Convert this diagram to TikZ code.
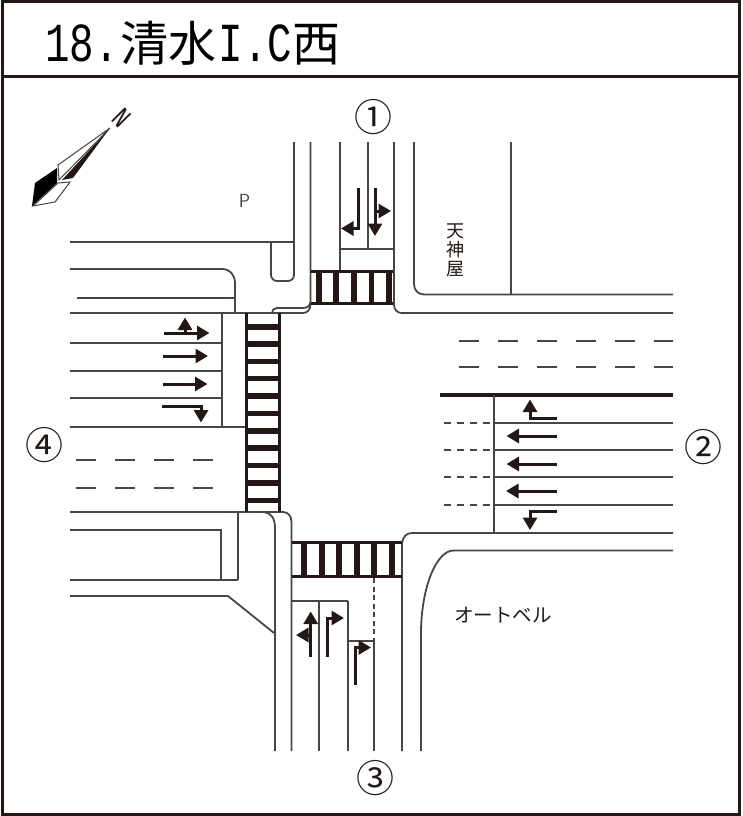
\documentclass[tikz,border=0pt]{standalone}
\usepackage{fontspec}
\usetikzlibrary{arrows.meta}
\newfontfamily\jpfont{Noto Sans CJK JP}
\newfontfamily\monofont[FakeStretch=0.742]{Liberation Mono}
\definecolor{ink}{HTML}{231815}
\definecolor{road}{HTML}{4A4442}
\tikzset{
  curb/.style={draw=road,line width=1.8pt},
  frame/.style={draw=ink,line width=3pt},
  barline/.style={draw=ink,line width=3pt},
  lane/.style={draw=ink,line width=3pt,-{Triangle[length=12.5pt,width=14pt]}},
  stripe/.style={fill=ink,draw=none},
  center/.style={draw=road,line width=1.7pt,dash pattern=on 20pt off 19pt},
  short/.style={draw=road,line width=1.9pt,dash pattern=on 7pt off 6.3pt},
  place/.style={font=\jpfont\fontsize{#1}{#1}\selectfont,text=ink,inner sep=0pt},
  number/.style={font=\jpfont\fontsize{38}{38}\selectfont,text=ink,inner sep=0pt}
}
\begin{document}
\begin{tikzpicture}[x=1pt,y=-1pt]
  \useasboundingbox (0,0) rectangle (742,816);
  % frame
  \draw[frame] (2,1.5) rectangle (739.2,814.5);
  \draw[frame] (2,76) -- (739.2,76);
  \node[anchor=base west,inner sep=0pt,text=black] (title) at (45,61)
    {\fontsize{55}{55}\monofont 18.\hspace{2pt}\fontsize{48}{48}\jpfont 清水\hspace{2pt}\fontsize{55}{55}\monofont I.C\fontsize{48}{48}\jpfont 西};
  % road 1
  \draw[curb] (294,142) -- (294,275) arc[start angle=0,end angle=90,radius=6] -- (277,281)
    arc[start angle=90,end angle=180,radius=6] -- (271,242);
  \draw[curb] (310.5,142) -- (310.5,302) .. controls (310,306) and (307,308) .. (303,308)
    -- (277,308) .. controls (274,308) and (272,310) .. (272,313);
  \draw[curb] (280,313) -- (303,313) .. controls (307,313) and (310.5,310) .. (310.5,304);
  \draw[curb] (340,142) -- (340,271);
  \draw[curb] (368,142) -- (368,249);
  \draw[curb] (340,249) -- (394,249);
  \draw[curb] (394,142) -- (394,305) .. controls (394.5,310) and (397,313) .. (402,313) -- (673,313);
  \draw[curb] (414,142) -- (414,284) .. controls (414,290) and (418,294.5) .. (424,294.5) -- (673,294.5);
  \draw[curb] (511,142) -- (511,294.5);
  % crosswalk 1
  \draw[barline] (310.5,271) -- (393,271);
  \draw[barline] (310.5,303.5) -- (393,303.5);
  \foreach \x in {319,336,354,371.5,389}
    \fill[stripe] (\x-2.7,271) rectangle (\x+2.7,303.5);
  % road 4
  \draw[curb] (70,242) -- (294,242);
  \draw[curb] (70,269) -- (222,269) .. controls (230,269) and (235,275) .. (235,283) -- (235,313);
  \draw[curb] (77,298) -- (235,298);
  \draw[curb] (70,313) -- (280,313);
  \draw[curb] (70,343) -- (222,343);
  \draw[curb] (70,371) -- (222,371);
  \draw[curb] (70,398) -- (222,398);
  \draw[curb] (70,427) -- (246,427);
  \draw[curb] (222,313) -- (222,427);
  \draw[center] (76,460) -- (213,460);
  \draw[center] (76,488) -- (213,488);
  \draw[curb] (70,512) -- (283,512) .. controls (288,512) and (291.5,516) .. (291.5,522) -- (291.5,751);
  \draw[curb] (264,512) .. controls (271,513) and (275,518) .. (275,528) -- (275,751);
  \draw[curb] (238,512) -- (238,580);
  \draw[curb] (70,530) -- (221,530) -- (221,580);
  \draw[curb] (70,580) -- (238,580);
  \draw[curb] (70,596) -- (228,596) -- (274,633);
  % crosswalk 4
  \draw[barline] (246.5,313) -- (246.5,512);
  \draw[barline] (279.5,313) -- (279.5,512);
  \foreach \y in {327,344,361.2,378.6,396,413.6,431,448,465.6,483,500.2}
    \fill[stripe] (246.5,\y-2.6) rectangle (279.5,\y+2.6);
  % road 3
  \draw[curb] (319,601) -- (319,751);
  \draw[curb] (348,601) -- (348,751);
  \draw[curb] (292,601) -- (348,601);
  \draw[curb] (348,641) -- (374,641);
  \draw[curb] (374,641) -- (374,751);
  \draw[curb,dash pattern=on 5pt off 3.5pt] (374,578) -- (374,641);
  \draw[curb] (402,751) -- (402,543) .. controls (403,537) and (406,533) .. (412,533) -- (673,533);
  \draw[curb] (421,751) -- (421,630) .. controls (422,585) and (437,550) .. (454,550.5) -- (673,550.5);
  % crosswalk 3
  \draw[barline] (292,542.5) -- (402,542.5);
  \draw[barline] (292,576) -- (402,576);
  \foreach \x in {304,321.7,339,356.7,373.7,391.7}
    \fill[stripe] (\x-3,542.5) rectangle (\x+3,576);
  % road 2
  \draw[draw=ink,line width=4pt] (440,394.5) -- (673,394.5);
  \draw[curb] (494,394.5) -- (494,533);
  \foreach \y in {423,450,477,505}{
    \draw[curb] (494,\y) -- (673,\y);
    \draw[short] (443.5,\y) -- (490,\y);
  }
  \draw[center] (459,341) -- (673,341);
  \draw[center] (459,367) -- (673,367);
  % lane arrows
  \draw[lane] (358,188) -- (358,228.5) -- (341,228.5);
  \draw[lane] (375,188) -- (375,236);
  \draw[lane] (375,211) -- (391,211);
  \draw[lane] (185,333) -- (185,317.5);
  \draw[lane] (164,333) -- (209.5,333);
  \draw[lane] (163,356) -- (208,356);
  \draw[lane] (163,384) -- (207.5,384);
  \draw[lane] (162,406) -- (201,406) -- (201,422.5);
  \draw[lane] (556.5,418) -- (530,418) -- (530,399.5);
  \draw[lane] (557,436) -- (506.5,436);
  \draw[lane] (557,464) -- (506.5,464);
  \draw[lane] (557,491) -- (506,491);
  \draw[lane] (556.5,511) -- (530,511) -- (530,530);
  \draw[lane] (310.7,657) -- (310.7,611.5);
  \draw[lane] (310.7,635) -- (296,635);
  \draw[lane] (327.7,657) -- (327.7,618) -- (344,618);
  \draw[lane] (355,685) -- (355,647.5) -- (371,647.5);
  % compass
  \draw[road,line width=1pt,fill=white] (33,206) -- (55,202) -- (70,182) -- (58,183) -- cycle;
  \fill[black] (35,183) -- (57,168) -- (57,183) -- (32,206) -- cycle;
  \draw[road,line width=1pt,fill=white] (110,128) -- (58,165) -- (59,180) -- cycle;
  \fill[ink] (110,128) -- (62,180) -- (73,178) -- cycle;
  \node[rotate=-45,xscale=.55,font=\sffamily\bfseries\fontsize{28}{28}\selectfont,inner sep=0pt,text=ink] (north) at (122,118) {N};
  % labels
  \node[number] (n1) at (373,117) {①};
  \node[number] (n2) at (703,447) {②};
  \node[number] (n3) at (375,778) {③};
  \node[number] (n4) at (44,445) {④};
  \node[font=\sffamily\fontsize{19}{19}\selectfont,inner sep=0pt,text=road] (park) at (244.5,201) {P};
  \node[place=18,align=center] (shop) at (455,250) {天\\[1pt]神\\[1pt]屋};
  \node[place=19.5] (store) at (503,615) {オートベル};
\end{tikzpicture}
\end{document}
